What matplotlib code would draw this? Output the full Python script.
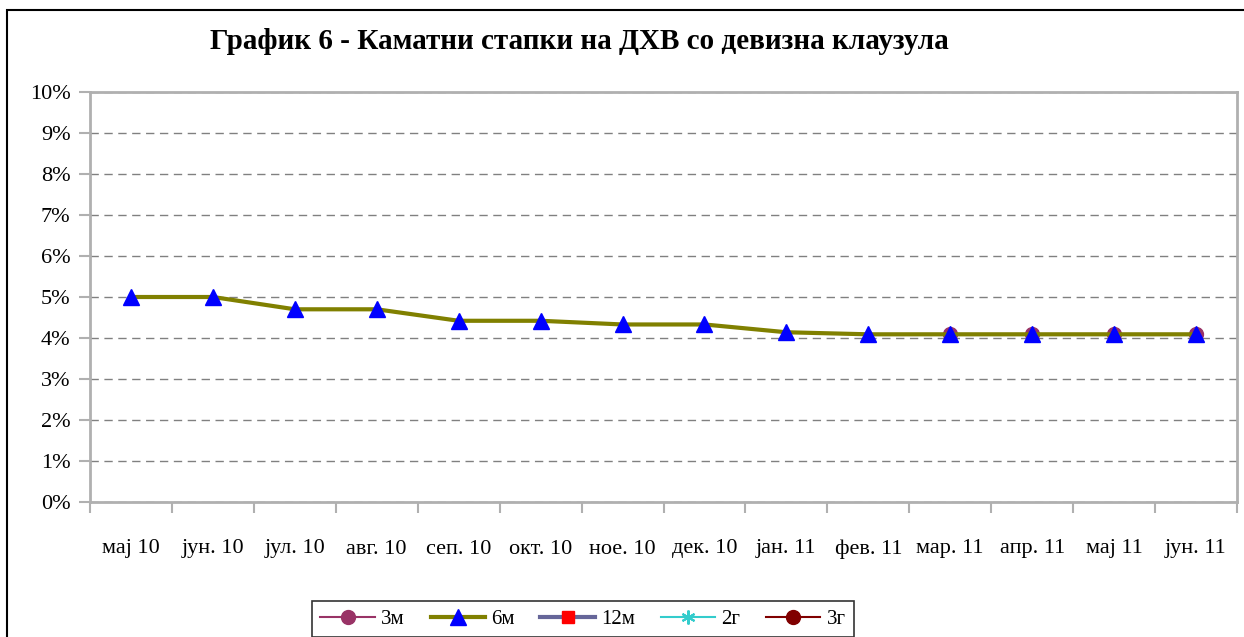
import numpy as np
import matplotlib.pyplot as plt
from matplotlib.patches import Rectangle

months = ["мај 10", "јун. 10", "јул. 10", "авг. 10", "сеп. 10", "окт. 10", "ное. 10",
          "дек. 10", "јан. 11", "фев. 11", "мар. 11", "апр. 11", "мај 11", "јун. 11"]
nan = np.nan
rate_3m = [nan, nan, nan, nan, nan, nan, nan, nan, nan, nan, 4.1, 4.1, 4.1, 4.1]
rate_6m = [5.0, 5.0, 4.7, 4.7, 4.42, 4.42, 4.33, 4.33, 4.14, 4.09, 4.09, 4.09, 4.09, 4.09]
rate_12m = [nan] * len(months)
rate_2y = [nan] * len(months)
rate_3y = [nan] * len(months)

plt.rcParams['font.family'] = ['Liberation Serif', 'DejaVu Serif']

fig = plt.figure(figsize=(12.44, 6.37), dpi=100)
ax = fig.add_axes([90 / 1244, 135 / 637, 1147 / 1244, 410 / 637])

# outer chart border
fig.patches.append(Rectangle((7 / 1244, -0.05), 1.1, (637 - 10) / 637 + 0.05,
                             transform=fig.transFigure, fill=False,
                             edgecolor='black', linewidth=1.5))

x = np.arange(len(months))
ax.plot(x, rate_3m, color='#993366', marker='o', markersize=10, linewidth=1.5, label='3м')
ax.plot(x, rate_6m, color='#808000', marker='^', markersize=12, markerfacecolor='blue',
        markeredgecolor='blue', linewidth=3, label='6м', zorder=3)
ax.plot(x, rate_12m, color='#666699', marker='s', markersize=8, markerfacecolor='red',
        markeredgecolor='red', linewidth=3, label='12м')
ax.plot(x, rate_2y, color='#33CCCC', marker=(6, 2, 0), markersize=10, linewidth=1.5,
        markeredgewidth=1.5, label='2г')
ax.plot(x, rate_3y, color='#800000', marker='o', markersize=10, linewidth=1.5, label='3г')

ax.set_xlim(-0.5, len(months) - 0.5)
ax.set_ylim(0, 10)
ax.set_yticks(np.arange(0, 11))
ax.set_yticklabels([f"{v}%" for v in range(11)], fontsize=16)
ax.yaxis.grid(True, linestyle=(0, (6, 4)), color='#808080', linewidth=1)
ax.set_axisbelow(True)

ax.set_xticks(x)
ax.set_xticklabels(months, fontsize=16)
ax.set_xticks(np.arange(-0.5, len(months)), minor=True)
ax.tick_params(axis='x', which='major', length=0, pad=27)
ax.tick_params(axis='x', which='minor', length=8, color='#b0b0b0', width=1.5)
ax.tick_params(axis='y', length=8, color='#b0b0b0', width=1.5, pad=6)

for side in ['left', 'bottom', 'top', 'right']:
    ax.spines[side].set_color('#b0b0b0')
    ax.spines[side].set_linewidth(2)

fig.text(0.466, 0.935, "График 6 - Каматни стапки на ДХВ со девизна клаузула",
         ha='center', va='center', fontsize=21, fontweight='bold')

leg = fig.legend(loc='upper center', bbox_to_anchor=(583 / 1244, 1 - 601 / 637), ncol=5,
                 fontsize=15, frameon=True, fancybox=False, handlelength=2.6,
                 columnspacing=1.25, handletextpad=0.3, borderpad=0.4, borderaxespad=0)
leg.get_frame().set_edgecolor('black')
leg.get_frame().set_linewidth(1.2)

fig.savefig("out.png", dpi=100)
